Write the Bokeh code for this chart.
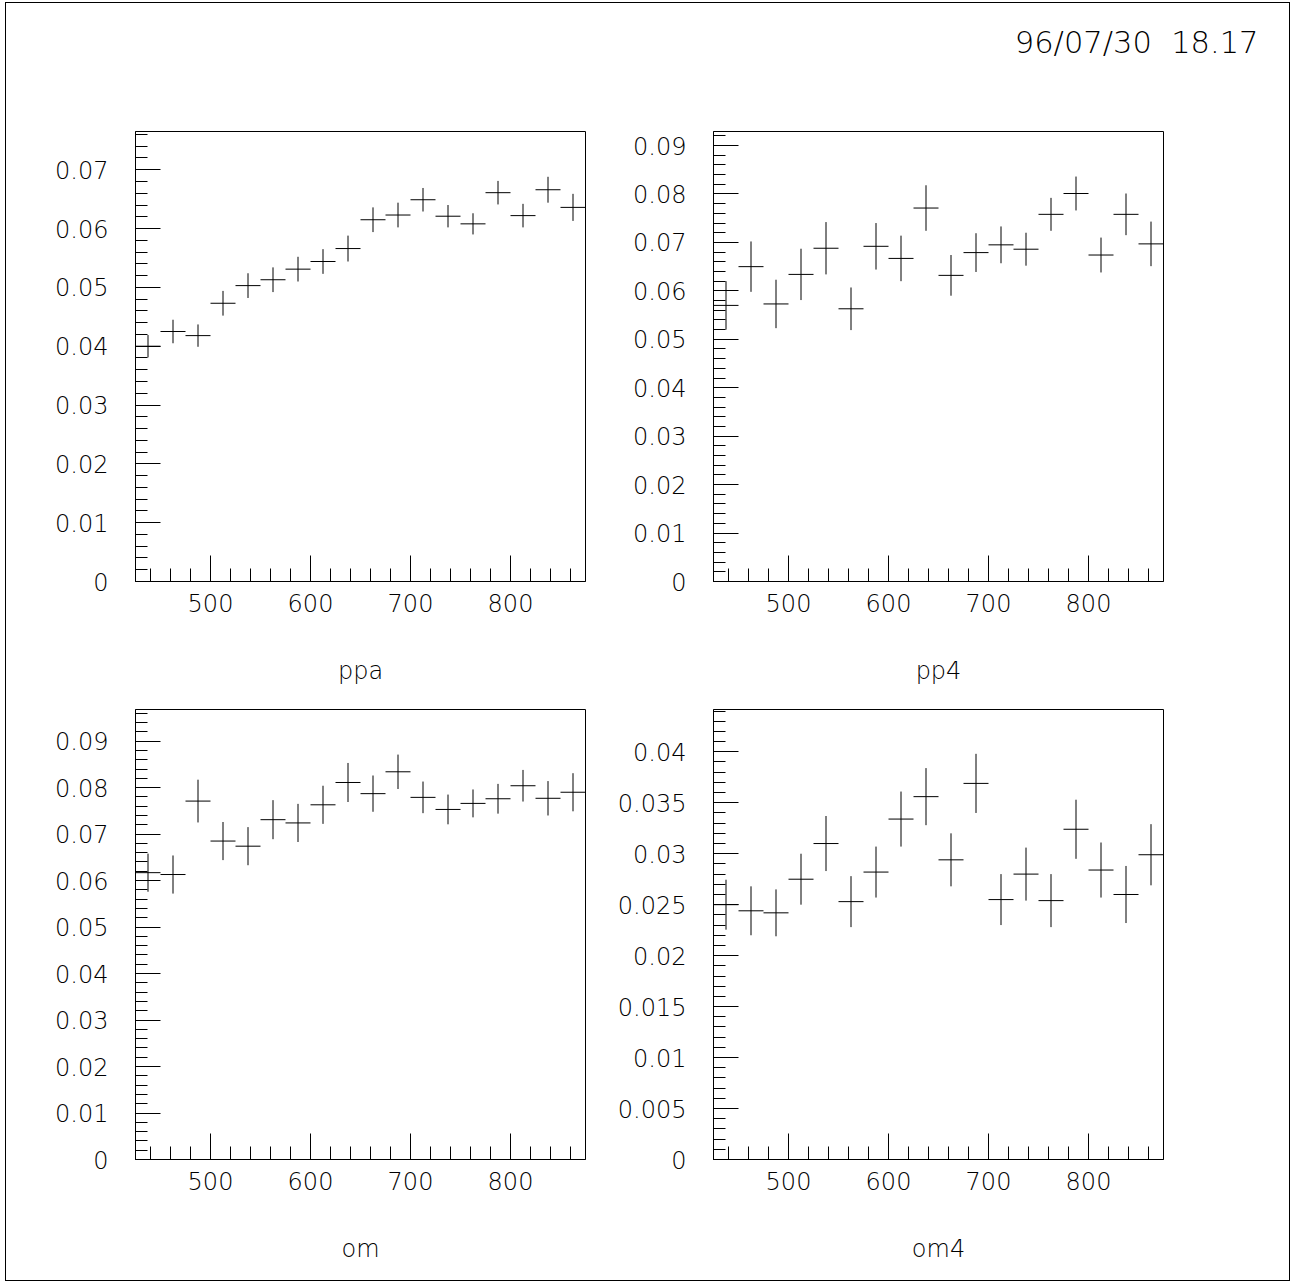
from bokeh.plotting import figure
from bokeh.layouts import row
from bokeh.models import (FixedTicker, CustomJSTickFormatter, Range1d, ColumnDataSource,
                          Column, Label)
from bokeh.embed import file_html
from bokeh.resources import INLINE
import numpy as np

# ---------------- data ----------------
bin_centres = [437.5, 462.5, 487.5, 512.5, 537.5, 562.5, 587.5, 612.5, 637.5,
               662.5, 687.5, 712.5, 737.5, 762.5, 787.5, 812.5, 837.5, 862.5]
bin_width = 25.0

ppa = [0.0400, 0.0425, 0.0418, 0.0473, 0.0503, 0.0513, 0.0531, 0.0544, 0.0566,
       0.0615, 0.0623, 0.0649, 0.0621, 0.0608, 0.0661, 0.0622, 0.0666, 0.0636]
ppa_err = [0.0019, 0.0020, 0.0019, 0.0021, 0.0021, 0.0021, 0.0021, 0.0021, 0.0022,
           0.0021, 0.0021, 0.0020, 0.0019, 0.0018, 0.0020, 0.0020, 0.0022, 0.0023]

pp4 = [0.0570, 0.0650, 0.0573, 0.0634, 0.0688, 0.0563, 0.0692, 0.0667, 0.0771,
       0.0632, 0.0679, 0.0695, 0.0686, 0.0758, 0.0801, 0.0674, 0.0758, 0.0697]
pp4_err = [0.0050, 0.0052, 0.0050, 0.0053, 0.0054, 0.0044, 0.0048, 0.0047, 0.0047,
           0.0042, 0.0040, 0.0038, 0.0034, 0.0034, 0.0035, 0.0036, 0.0043, 0.0046]

om = [0.0617, 0.0613, 0.0771, 0.0685, 0.0674, 0.0731, 0.0724, 0.0763, 0.0811,
      0.0787, 0.0834, 0.0779, 0.0753, 0.0766, 0.0776, 0.0804, 0.0777, 0.0790]
om_err = [0.0041, 0.0041, 0.0046, 0.0041, 0.0041, 0.0042, 0.0041, 0.0041, 0.0042,
          0.0039, 0.0037, 0.0034, 0.0032, 0.0030, 0.0032, 0.0034, 0.0037, 0.0041]

om4 = [0.0250, 0.0244, 0.0242, 0.0275, 0.0310, 0.0253, 0.0282, 0.0334, 0.0356,
       0.0294, 0.0369, 0.0255, 0.0280, 0.0254, 0.0324, 0.0284, 0.0260, 0.0299]
om4_err = [0.00245, 0.0024, 0.0023, 0.0025, 0.0027, 0.0025, 0.0025, 0.0027, 0.0028,
           0.0026, 0.0029, 0.0025, 0.0026, 0.0026, 0.0029, 0.0027, 0.0028, 0.0030]

x_ticks = [500, 600, 700, 800]
x_minor_step = 20
x_lo, x_hi = 425, 875

ppa_yticks = [0, 0.01, 0.02, 0.03, 0.04, 0.05, 0.06, 0.07]
pp4_yticks = [0, 0.01, 0.02, 0.03, 0.04, 0.05, 0.06, 0.07, 0.08, 0.09]
om_yticks = [0, 0.01, 0.02, 0.03, 0.04, 0.05, 0.06, 0.07, 0.08, 0.09]
om4_yticks = [0, 0.005, 0.01, 0.015, 0.02, 0.025, 0.03, 0.035, 0.04]

stamp = "96/07/30\u00a0\u00a018.17"

FONT = "'DejaVu Sans ExtraLight', 'DejaVu Sans Light', 'DejaVu Sans'"


def make_panel(vals, errs, ymax, yticks, yminor_step, label, width, height,
               mbl, mbr, mbt, mbb):
    p = figure(width=width, height=height, output_backend="svg", toolbar_location=None,
               x_range=Range1d(x_lo, x_hi), y_range=Range1d(0, ymax))
    p.min_border_left = mbl
    p.min_border_right = mbr
    p.min_border_top = mbt
    p.min_border_bottom = mbb
    p.grid.visible = False
    p.outline_line_color = "black"
    p.outline_line_alpha = 1.0
    p.outline_line_width = 1
    p.background_fill_color = "white"
    p.border_fill_color = "white"

    xminor = list(np.arange(x_lo - x_lo % x_minor_step + x_minor_step, x_hi, x_minor_step))
    p.xaxis.ticker = FixedTicker(ticks=x_ticks, minor_ticks=xminor)
    ymin_list = list(np.round(np.arange(0, ymax, yminor_step), 6))
    p.yaxis.ticker = FixedTicker(ticks=yticks, minor_ticks=ymin_list)
    p.yaxis.formatter = CustomJSTickFormatter(
        code="return (Math.round(tick*100000)/100000).toString();")

    for ax in (p.xaxis[0], p.yaxis[0]):
        ax.axis_line_color = "black"
        ax.major_tick_line_color = "black"
        ax.minor_tick_line_color = "black"
        ax.major_tick_out = 0
        ax.minor_tick_out = 0
        ax.major_label_text_font = FONT
        ax.major_label_text_font_size = "24px"
        ax.major_label_text_color = "black"
    p.xaxis.major_tick_in = 26
    p.xaxis.minor_tick_in = 13
    p.yaxis.major_tick_in = 25
    p.yaxis.minor_tick_in = 12
    p.yaxis.major_label_standoff = 27
    p.xaxis.major_label_standoff = 12

    p.xaxis.axis_label = label
    p.xaxis.axis_label_text_font = FONT
    p.xaxis.axis_label_text_font_size = "24px"
    p.xaxis.axis_label_text_font_style = "normal"
    p.xaxis.axis_label_text_color = "black"
    p.xaxis.axis_label_standoff = 42

    c = np.array(bin_centres)
    v = np.array(vals)
    e = np.array(errs)
    src = ColumnDataSource(dict(x=c, lo=c - bin_width / 2, hi=c + bin_width / 2,
                                y=v, ylo=v - e, yhi=v + e))
    p.segment(x0="lo", x1="hi", y0="y", y1="y", source=src, line_color="black", line_width=1)
    p.segment(x0="x", x1="x", y0="ylo", y1="yhi", source=src, line_color="black", line_width=1)
    return p


HEAD = 80
p1 = make_panel(ppa, ppa_err, 0.0765, ppa_yticks, 0.002, "ppa", 582, 703 - HEAD, 129, 3, 128 - HEAD, 125)
p2 = make_panel(pp4, pp4_err, 0.0929, pp4_yticks, 0.002, "pp4", 701, 703 - HEAD, 125, 126, 128 - HEAD, 125)
p3 = make_panel(om, om_err, 0.0968, om_yticks, 0.002, "om", 582, 574, 129, 3, 3, 121)
p4 = make_panel(om4, om4_err, 0.04415, om4_yticks, 0.001, "om4", 701, 574, 125, 126, 3, 121)

# header strip carrying the date/time stamp (pixel coordinates of the strip)
head = figure(width=1283, height=HEAD, output_backend="svg", toolbar_location=None,
              x_range=Range1d(0, 1283), y_range=Range1d(0, HEAD),
              x_axis_type=None, y_axis_type=None, min_border=0)
head.grid.visible = False
head.outline_line_color = None
head.background_fill_color = "white"
head.border_fill_color = "white"
head.add_layout(Label(x=1252, y=HEAD - 39, text=stamp, text_align="right",
                      text_baseline="alphabetic", text_font=FONT,
                      text_font_size="30.5px", text_color="black"))

layout = Column(children=[head, row(p1, p2), row(p3, p4)], margin=(2, 0, 0, 5),
                styles={"border": "1px solid black"})

open("out.html", "w").write(file_html(layout, INLINE))
